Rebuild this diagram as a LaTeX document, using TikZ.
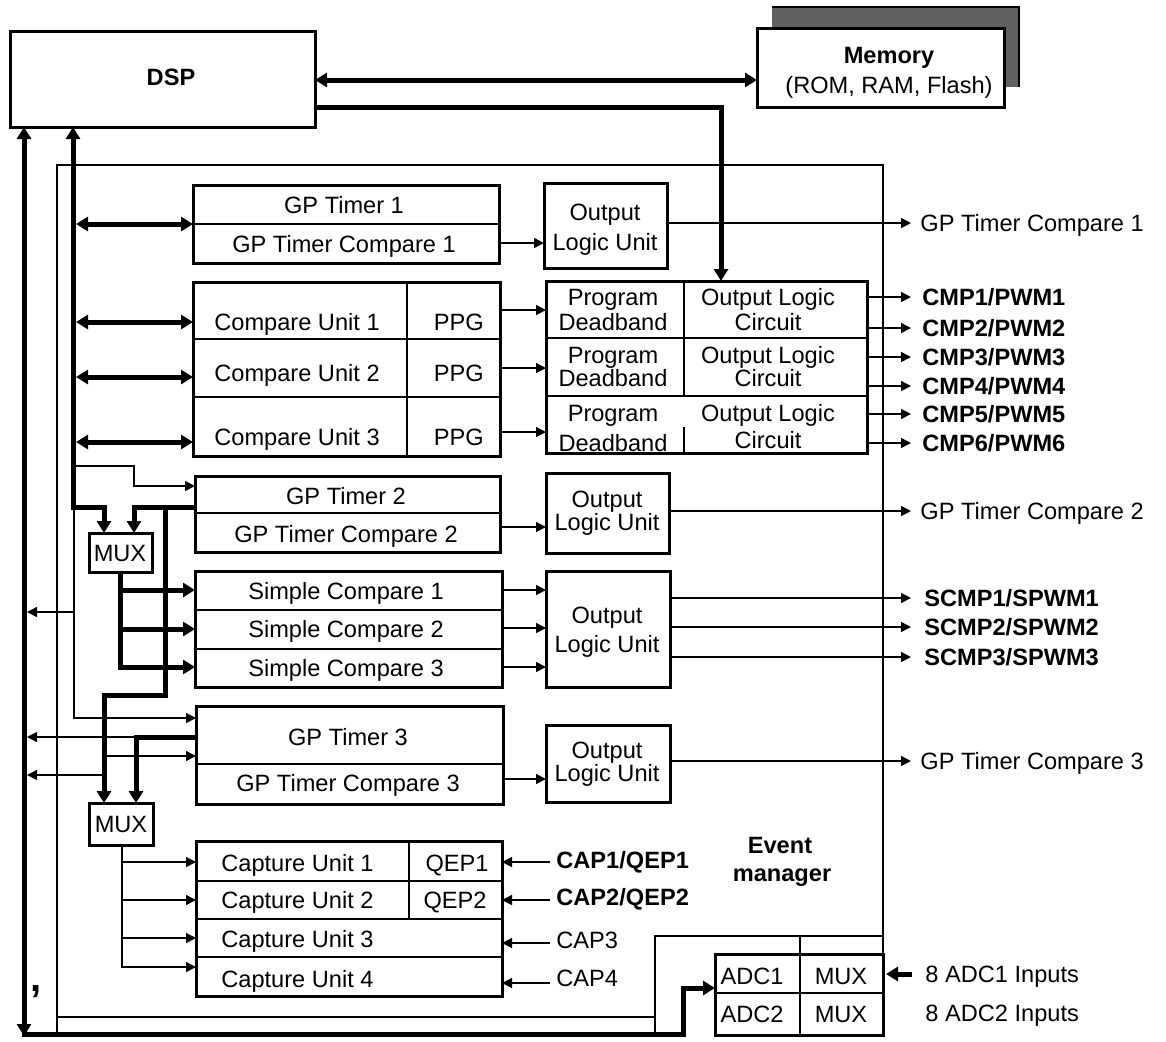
\documentclass[tikz,border=0pt]{standalone}
\usepackage{fontspec}
\setmainfont{Liberation Sans}
\usetikzlibrary{arrows.meta}
\begin{document}
\begin{tikzpicture}[x=0.5pt,y=-0.5pt,
  txt/.style={inner sep=0pt, text height=8.45pt, text depth=0pt, font=\fontsize{11.8}{14}\selectfont},
  btxt/.style={inner sep=0pt, text height=8.45pt, text depth=0pt, font=\fontsize{11.8}{14}\selectfont\bfseries},
  ltxt/.style={txt, anchor=west},
  lbtxt/.style={btxt, anchor=west},
  blk/.style={draw, line width=1.5pt},
  dv/.style={line width=0.75pt},
  bus/.style={line width=2.5pt},
  thn/.style={line width=0.75pt},
  frm/.style={line width=0.6pt},
  ta/.style={-{Triangle[length=5pt,width=5pt]}},
  ba/.style={-{Triangle[length=6pt,width=7pt]}},
  bba/.style={{Triangle[length=6pt,width=7pt]}-{Triangle[length=6pt,width=7pt]}},
]
\fill[white] (0,0) rectangle (1166,1041);
\useasboundingbox (0,0) rectangle (1166,1041);

% ---------- Memory ----------
\fill[black!62] (772,7) rectangle (1019,87);
\draw[line width=1.2pt] (772,7) -- (1019,7) -- (1019,87);
\draw[blk, fill=white] (757,28) rectangle (1004,107);
\node[btxt] (mem) at (889,55) {Memory};
\node[txt] (memsub) at (889,85) {(ROM, RAM, Flash)};

% ---------- DSP ----------
\draw[blk] (10,31) rectangle (315,127);
\node[btxt] (dsp) at (171,77) {DSP};

\draw[bus, bba] (315,80) -- (757,80);
\draw[bus, ba] (315,107) -- (721,107) -- (721,281);

% ---------- Event manager frame ----------
\draw[frm] (57,1034) -- (57,165) -- (883,165) -- (883,954);
\draw[frm] (57,1017) -- (655,1017);
\draw[frm] (655,1034) -- (655,936) -- (883,936);
\draw[frm] (800,936) -- (800,954);
\node[btxt] (em1) at (780,845) {Event};
\node[btxt] (em2) at (782,873) {manager};

% ---------- left buses ----------
\draw[bus, bba] (24,127) -- (24,1034) -- (683,1034) -- (683,988) -- (715,988);
\draw[bus, ba] (24,1005) -- (24,1036);
\node[inner sep=0pt, font=\fontsize{20}{20}\selectfont\bfseries] (comma) at (36,992) {,};
\draw[bus, bba] (73,127) -- (73,507) -- (104,507) -- (104,533);

% ---------- GP Timer 1 ----------
\draw[blk] (193,185) rectangle (499,263);
\draw[dv] (193,224) -- (499,224);
\node[txt] (gp1) at (344,205) {GP Timer 1};
\node[txt] (gp1c) at (344,244) {GP Timer Compare 1};
\draw[bus, bba] (76,224) -- (193,224);
\draw[blk] (544,183) rectangle (667,268);
\node[txt] (olu1a) at (605,212) {Output};
\node[txt] (olu1b) at (605,242) {Logic Unit};
\draw[thn, ta] (499,243) -- (544,243);
\draw[thn, ta] (667,223) -- (911,223);
\node[ltxt] (out1) at (920,223) {GP Timer Compare 1};

% ---------- Compare units ----------
\draw[blk] (193,282) rectangle (500,456);
\draw[dv] (193,339) -- (500,339);
\draw[dv] (193,397) -- (500,397);
\draw[dv] (407,282) -- (407,456);
\node[ltxt] (cu1) at (214,322) {Compare Unit 1};
\node[ltxt] (cu2) at (214,373) {Compare Unit 2};
\node[ltxt] (cu3) at (214,437) {Compare Unit 3};
\node[txt, anchor=east] (ppg1) at (484,322) {PPG};
\node[txt, anchor=east] (ppg2) at (484,373) {PPG};
\node[txt, anchor=east] (ppg3) at (484,437) {PPG};
\draw[bus, bba] (76,322) -- (193,322);
\draw[bus, bba] (76,377) -- (193,377);
\draw[bus, bba] (76,442) -- (193,442);
\draw[thn, ta] (500,310) -- (546,310);
\draw[thn, ta] (500,368) -- (546,368);
\draw[thn, ta] (500,432) -- (546,432);

% ---------- Deadband / Output logic circuit ----------
\draw[blk] (546,281) rectangle (867,453);
\draw[dv] (546,338) -- (867,338);
\draw[dv] (546,396) -- (867,396);
\draw[dv] (684,281) -- (684,396);
\draw[dv] (684,427) -- (684,453);
\node[txt] (pd1a) at (613,297) {Program};
\node[txt] (pd1b) at (613,322) {Deadband};
\node[txt] (pd2a) at (613,355) {Program};
\node[txt] (pd2b) at (613,378) {Deadband};
\node[txt] (pd3a) at (613,413) {Program};
\node[txt] (pd3b) at (613,443) {Deadband};
\node[txt] (ol1a) at (768,297) {Output Logic};
\node[txt] (ol1b) at (768,322) {Circuit};
\node[txt] (ol2a) at (768,355) {Output Logic};
\node[txt] (ol2b) at (768,378) {Circuit};
\node[txt] (ol3a) at (768,413) {Output Logic};
\node[txt] (ol3b) at (768,440) {Circuit};
\foreach \yy/\lab in {297/CMP1\slash PWM1, 328/CMP2\slash PWM2, 357/CMP3\slash PWM3, 386/CMP4\slash PWM4, 414/CMP5\slash PWM5, 443/CMP6\slash PWM6}{
  \draw[thn, ta] (867,\yy) -- (911,\yy);
  \node[lbtxt] at (922,\yy) {\lab};
}

% ---------- GP Timer 2 ----------
\draw[blk] (195,476) rectangle (500,552);
\draw[dv] (195,513) -- (500,513);
\node[txt] (gp2) at (346,496) {GP Timer 2};
\node[txt] (gp2c) at (346,534) {GP Timer Compare 2};
\draw[thn, ta] (73,466) -- (134,466) -- (134,486) -- (195,486);
\draw[bus, ba] (195,507) -- (134,507) -- (134,533);
\draw[bus, ba] (165,507) -- (165,695) -- (104,695) -- (104,803);
\draw[blk] (546,473) rectangle (669,553);
\node[txt] (olu2a) at (607,499) {Output};
\node[txt] (olu2b) at (607,522) {Logic Unit};
\draw[thn, ta] (500,527) -- (546,527);
\draw[thn, ta] (669,511) -- (911,511);
\node[ltxt] (out2) at (920,511) {GP Timer Compare 2};

% ---------- MUX 1 ----------
\draw[blk, fill=white] (89,533) rectangle (152,572);
\node[txt] (mux1) at (120,553) {MUX};

% ---------- Simple compare ----------
\draw[blk] (195,571) rectangle (502,687);
\draw[dv] (195,610) -- (502,610);
\draw[dv] (195,649) -- (502,649);
\node[txt] (sc1) at (346,591) {Simple Compare 1};
\node[txt] (sc2) at (346,629) {Simple Compare 2};
\node[txt] (sc3) at (346,668) {Simple Compare 3};
\draw[bus, ba] (120,572) -- (120,667) -- (195,667);
\draw[bus, ba] (120,590) -- (195,590);
\draw[bus, ba] (120,629) -- (195,629);
\draw[blk] (546,571) rectangle (670,687);
\node[txt] (olu3a) at (607,615) {Output};
\node[txt] (olu3b) at (607,644) {Logic Unit};
\draw[thn, ta] (502,590) -- (546,590);
\draw[thn, ta] (502,628) -- (546,628);
\draw[thn, ta] (502,667) -- (546,667);
\draw[thn, ta] (670,598) -- (911,598);
\draw[thn, ta] (670,627) -- (911,627);
\draw[thn, ta] (670,657) -- (911,657);
\node[lbtxt] (s1) at (924,598) {SCMP1/SPWM1};
\node[lbtxt] (s2) at (924,627) {SCMP2/SPWM2};
\node[lbtxt] (s3) at (924,657) {SCMP3/SPWM3};

% ---------- GP Timer 3 ----------
\draw[thn, ta] (74,507) -- (74,718) -- (196,718);
\draw[thn, ta] (74,612) -- (27,612);
\draw[blk] (196,706) rectangle (503,804);
\draw[dv] (196,764) -- (503,764);
\node[txt] (gp3) at (348,737) {GP Timer 3};
\node[txt] (gp3c) at (348,783) {GP Timer Compare 3};
\draw[bus, ba] (196,737) -- (136,737) -- (136,803);
\draw[thn, ta] (136,737) -- (27,737);
\draw[thn, ta] (104,756) -- (196,756);
\draw[thn, ta] (104,775) -- (27,775);
\draw[blk] (546,725) rectangle (670,802);
\node[txt] (olu4a) at (607,750) {Output};
\node[txt] (olu4b) at (607,773) {Logic Unit};
\draw[thn, ta] (503,779) -- (546,779);
\draw[thn, ta] (670,761) -- (911,761);
\node[ltxt] (out3) at (920,761) {GP Timer Compare 3};

% ---------- MUX 2 ----------
\draw[blk, fill=white] (89,803) rectangle (153,845);
\node[txt] (mux2) at (121,824) {MUX};

% ---------- Capture units ----------
\draw[blk] (196,841) rectangle (502,996);
\draw[dv] (196,881) -- (502,881);
\draw[dv] (196,919) -- (502,919);
\draw[dv] (196,957) -- (502,957);
\draw[dv] (409,841) -- (409,919);
\node[ltxt] (cap1) at (221,863) {Capture Unit 1};
\node[ltxt] (cap2) at (221,900) {Capture Unit 2};
\node[ltxt] (cap3) at (221,939) {Capture Unit 3};
\node[ltxt] (cap4) at (221,979) {Capture Unit 4};
\node[txt] (qep1) at (457,863) {QEP1};
\node[txt] (qep2) at (455,900) {QEP2};
\draw[thn, ta] (122,845) -- (122,967) -- (196,967);
\draw[thn, ta] (122,862) -- (196,862);
\draw[thn, ta] (122,900) -- (196,900);
\draw[thn, ta] (122,938) -- (196,938);
\draw[thn, ta] (550,862) -- (502,862);
\draw[thn, ta] (550,900) -- (502,900);
\draw[thn, ta] (550,943) -- (502,943);
\draw[thn, ta] (550,983) -- (502,983);
\node[lbtxt] (ci1) at (556,860) {CAP1/QEP1};
\node[lbtxt] (ci2) at (556,897) {CAP2/QEP2};
\node[ltxt] (ci3) at (556,940) {CAP3};
\node[ltxt] (ci4) at (556,978) {CAP4};

% ---------- ADC ----------
\draw[blk] (715,954) rectangle (883,1035);
\draw[dv] (715,993) -- (883,993);
\draw[dv] (800,954) -- (800,1035);
\node[txt] (adc1) at (752,976) {ADC1};
\node[txt] (amux1) at (841,976) {MUX};
\node[txt] (adc2) at (752,1014) {ADC2};
\node[txt] (amux2) at (841,1014) {MUX};
\draw[bus, ba] (912,974) -- (886,974);
\node[ltxt] (in1) at (925,974) {8 ADC1 Inputs};
\node[ltxt] (in2) at (925,1013) {8 ADC2 Inputs};
\end{tikzpicture}
\end{document}
